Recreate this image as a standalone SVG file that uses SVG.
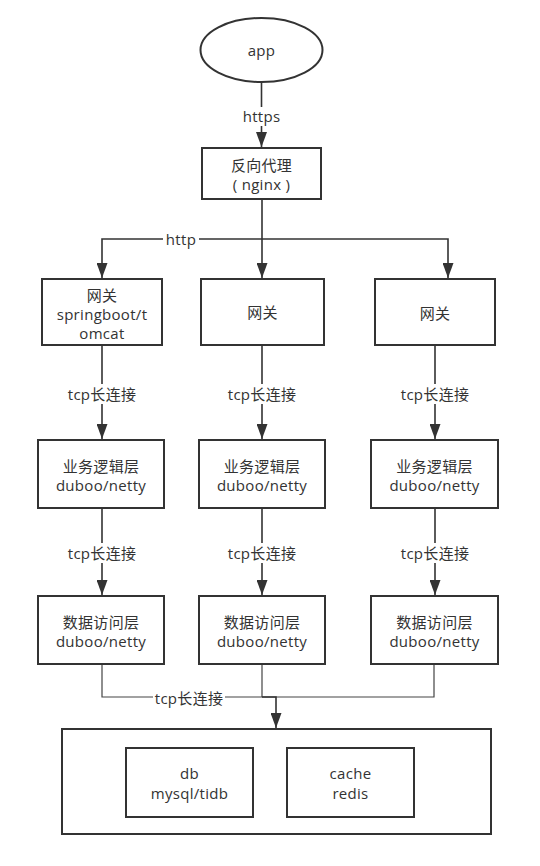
<svg xmlns="http://www.w3.org/2000/svg" width="540" height="866" viewBox="0 0 540 866">
<defs>
<style>
.box{fill:#fff;stroke:#333;stroke-width:2}
.ln{fill:none;stroke:#333;stroke-width:1.6}
.thin{fill:none;stroke:#444;stroke-width:1.2}
text{font-family:"Open Sans","Noto Sans CJK SC",sans-serif;font-size:15px;fill:#333;text-anchor:middle;dominant-baseline:central;letter-spacing:0.3px}
.bg{fill:#fff}
</style>
<marker id="ah" viewBox="0 0 15 11" refX="15" refY="5.5" markerWidth="15" markerHeight="11" markerUnits="userSpaceOnUse" orient="auto">
<path d="M0,0 L15,5.5 L0,11 z" fill="#333"/>
</marker>
</defs>
<rect width="540" height="866" fill="#fff"/>
<g id="connectors">
<path class="ln" d="M261.5,82 V147" marker-end="url(#ah)"/>
<rect class="bg" x="239" y="107" width="46" height="19"/>
<text x="261.5" y="116">https</text>
<path class="ln" d="M262,199 V278" marker-end="url(#ah)"/>
<path class="ln" d="M262,239 H102 V278" marker-end="url(#ah)"/>
<path class="ln" d="M262,239 H448 V278" marker-end="url(#ah)"/>
<rect class="bg" x="163" y="230" width="36" height="18"/>
<text x="181" y="239">http</text>
<path class="ln" d="M102,345 V439" marker-end="url(#ah)"/>
<path class="ln" d="M262,345 V439" marker-end="url(#ah)"/>
<path class="ln" d="M435,345 V439" marker-end="url(#ah)"/>
<path class="ln" d="M102,508 V595" marker-end="url(#ah)"/>
<path class="ln" d="M262,508 V595" marker-end="url(#ah)"/>
<path class="ln" d="M435,508 V595" marker-end="url(#ah)"/>
<g>
<rect class="bg" x="65" y="384" width="74" height="20"/>
<text x="102" y="394">tcp长连接</text>
<rect class="bg" x="225" y="384" width="74" height="20"/>
<text x="262" y="394">tcp长连接</text>
<rect class="bg" x="398" y="384" width="74" height="20"/>
<text x="435" y="394">tcp长连接</text>
<rect class="bg" x="65" y="543" width="74" height="20"/>
<text x="102" y="553">tcp长连接</text>
<rect class="bg" x="225" y="543" width="74" height="20"/>
<text x="262" y="553">tcp长连接</text>
<rect class="bg" x="398" y="543" width="74" height="20"/>
<text x="435" y="553">tcp长连接</text>
</g>
<path class="thin" d="M102,664 V697 H434 V664"/>
<path class="thin" d="M262,664 V697"/>
<path class="ln" d="M262,697 H276 V728" marker-end="url(#ah)"/>
<rect class="bg" x="153" y="688" width="72" height="20"/>
<text x="189" y="698">tcp长连接</text>
</g>
<g id="app">
<ellipse class="box" cx="261.5" cy="50" rx="61" ry="32"/>
<text x="261.5" y="50">app</text>
</g>
<g id="proxy">
<rect class="box" x="202" y="148" width="119" height="51"/>
<text x="261.5" y="164.5">反向代理</text>
<text x="261.5" y="184">( nginx )</text>
</g>
<g id="gw1">
<rect class="box" x="42" y="279" width="120" height="66"/>
<text x="102" y="295">网关</text>
<text x="102" y="314">springboot/t</text>
<text x="102" y="333">omcat</text>
</g>
<g id="gw2">
<rect class="box" x="201" y="279" width="123" height="66"/>
<text x="262.5" y="312">网关</text>
</g>
<g id="gw3">
<rect class="box" x="375" y="279" width="120" height="66"/>
<text x="435" y="313">网关</text>
</g>
<g id="biz1">
<rect class="box" x="38" y="440" width="126" height="68"/>
<text x="101" y="466">业务逻辑层</text>
<text x="101" y="485">duboo/netty</text>
</g>
<g id="biz2">
<rect class="box" x="199" y="440" width="126" height="68"/>
<text x="262" y="466">业务逻辑层</text>
<text x="262" y="485">duboo/netty</text>
</g>
<g id="biz3">
<rect class="box" x="371" y="440" width="127" height="68"/>
<text x="434.5" y="466">业务逻辑层</text>
<text x="434.5" y="485">duboo/netty</text>
</g>
<g id="dao1">
<rect class="box" x="38" y="596" width="126" height="68"/>
<text x="101" y="621.5">数据访问层</text>
<text x="101" y="640.5">duboo/netty</text>
</g>
<g id="dao2">
<rect class="box" x="199" y="596" width="126" height="68"/>
<text x="262" y="621.5">数据访问层</text>
<text x="262" y="640.5">duboo/netty</text>
</g>
<g id="dao3">
<rect class="box" x="371" y="596" width="127" height="68"/>
<text x="434.5" y="621.5">数据访问层</text>
<text x="434.5" y="640.5">duboo/netty</text>
</g>
<g id="storage">
<rect class="box" x="62" y="729" width="429" height="105"/>
</g>
<g id="db">
<rect class="box" x="126" y="748" width="127" height="69"/>
<text x="189.5" y="773">db</text>
<text x="189.5" y="792.5">mysql/tidb</text>
</g>
<g id="cache">
<rect class="box" x="287" y="748" width="127" height="69"/>
<text x="350.5" y="773">cache</text>
<text x="350.5" y="792.5">redis</text>
</g>
</svg>
